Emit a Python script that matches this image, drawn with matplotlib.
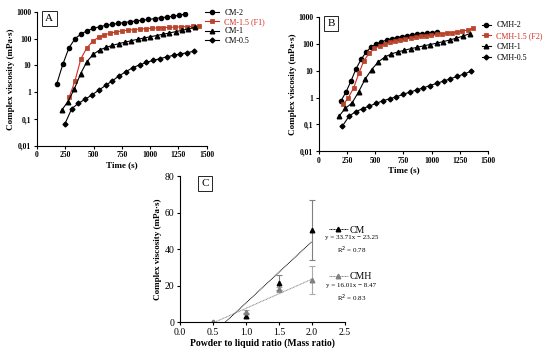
import numpy as np
import matplotlib.pyplot as plt
from matplotlib.ticker import FuncFormatter, FixedLocator
from matplotlib.lines import Line2D

plt.rcParams['font.family'] = ['Liberation Serif', 'DejaVu Serif']

# panel A (CM)
t_cm2 = [175 + 54 * k for k in range(22)]
v_cm2 = [2, 11, 45, 100, 150, 200, 240, 280, 310, 340, 370, 400, 430, 460,
         490, 520, 560, 600, 640, 690, 740, 830]
t_cm15 = [285 + 52 * k for k in range(23)]
v_cm15 = [0.65, 2.7, 18, 45, 80, 113, 140, 160, 180, 195, 207, 218, 228,
          237, 245, 252, 258, 264, 270, 276, 282, 288, 295]
t_cm1 = [218 + 56 * k for k in range(22)]
v_cm1 = [0.21, 0.45, 1.3, 4.9, 14, 26, 38, 47, 56, 65, 74, 84, 95, 106,
         118, 131, 146, 163, 183, 205, 232, 265]
t_cm05 = [247 + 60 * k for k in range(20)]
v_cm05 = [0.065, 0.24, 0.39, 0.55, 0.8, 1.2, 1.8, 2.7, 4.1, 5.9, 8.3, 10.5,
          13, 15.5, 18, 21, 24, 27, 30, 34]

# panel B (CMH)
t_cmh2 = [195 + 45 * k for k in range(20)]
v_cmh2 = [0.75, 1.6, 4.2, 12, 27, 50, 78, 100, 120, 138, 155, 170, 185,
          198, 212, 225, 238, 250, 262, 280]
t_cmh15 = [216 + 46 * k for k in range(26)]
v_cmh15 = [0.55, 1.0, 2.3, 8, 24, 45, 68, 85, 100, 115, 130, 143, 156, 168,
           180, 192, 204, 216, 228, 240, 253, 266, 280, 300, 330, 380]
t_cmh1 = [177 + 58 * k for k in range(21)]
v_cmh1 = [0.2, 0.4, 0.62, 1.6, 4.8, 11, 21, 32, 42, 50, 58, 66, 75, 85, 95,
          107, 122, 140, 165, 195, 240]
t_cmh05 = [207 + 60 * k for k in range(20)]
v_cmh05 = [0.085, 0.2, 0.30, 0.38, 0.48, 0.60, 0.76, 0.89, 1.07, 1.3, 1.6,
           1.9, 2.3, 2.8, 3.4, 4.1, 5.0, 6.1, 7.5, 9.4]

# panel C
ratio = [0.5, 1.0, 1.5, 2.0]
cm_mean = [0, 3.5, 21.7, 50.4]
cm_err = [0, 1.5, 4, 16.5]
cmh_mean = [0, 5.5, 18, 23]
cmh_err = [0, 1, 1.5, 7.7]

red = '#d42a1e'
brown = '#a0522d'
gray = '#808080'


def fmt_log(v, pos):
    return ('%g' % v).replace('.', ',')


def time_panel(ax, series, labels, letter, leg_x, leg_y, handle_len, spacing):
    markers = ['o', 's', '^', 'D']
    sizes = [3.0, 3.0, 3.3, 2.5]
    for i, (t, v) in enumerate(series):
        if markers[i] == 's':
            ax.plot(t, v, color=red, lw=0.8, marker='s', ms=sizes[i],
                    mfc=brown, mec=red, mew=0.5, label=labels[i])
        else:
            ax.plot(t, v, color='black', lw=0.8, marker=markers[i],
                    ms=sizes[i], label=labels[i])
    ax.set_yscale('log')
    ax.set_ylim(0.01, 1000)
    ax.set_xlim(0, 1500)
    ax.set_xticks([0, 250, 500, 750, 1000, 1250, 1500])
    ax.yaxis.set_major_locator(FixedLocator([0.01, 0.1, 1, 10, 100, 1000]))
    ax.yaxis.set_major_formatter(FuncFormatter(fmt_log))
    ax.yaxis.set_minor_locator(FixedLocator([]))
    for s in ['top', 'right']:
        ax.spines[s].set_visible(False)
    ax.tick_params(labelsize=5.5, length=2.5, width=0.8, pad=1.5)
    for lab in ax.get_xticklabels() + ax.get_yticklabels():
        lab.set_fontweight('bold')
    ax.set_xlabel('Time (s)', fontsize=6.5, fontweight='bold', labelpad=1)
    ax.set_ylabel('Complex viscosity (mPa·s)', fontsize=6.5,
                  fontweight='bold', labelpad=1)
    ax.text(0.05, 0.985, letter, transform=ax.transAxes, fontsize=8,
            va='top', ha='left',
            bbox=dict(boxstyle='square,pad=0.3', fc='white', ec='black', lw=0.6))
    leg = ax.legend(loc='upper left', bbox_to_anchor=(leg_x, leg_y),
                    frameon=False, fontsize=5.8, handlelength=handle_len,
                    labelspacing=spacing, borderaxespad=0, borderpad=0,
                    handletextpad=0.7)
    leg.get_texts()[1].set_color(red)


fig = plt.figure(figsize=(5.5, 3.49), dpi=100)

axA = fig.add_axes([0.067, 0.582, 0.309, 0.384])
time_panel(axA, [(t_cm2, v_cm2), (t_cm15, v_cm15), (t_cm1, v_cm1),
                 (t_cm05, v_cm05)],
           ['CM-2', 'CM-1.5 (F1)', 'CM-1', 'CM-0.5'], 'A',
           0.99, 1.022, 1.7, 0.15)

axB = fig.add_axes([0.58, 0.567, 0.307, 0.384])
time_panel(axB, [(t_cmh2, v_cmh2), (t_cmh15, v_cmh15), (t_cmh1, v_cmh1),
                 (t_cmh05, v_cmh05)],
           ['CMH-2', 'CMH-1.5 (F2)', 'CMH-1', 'CMH-0.5'], 'B',
           0.965, 0.968, 1.1, 0.35)

axC = fig.add_axes([0.327, 0.077, 0.30, 0.418])
axC.errorbar(ratio, cm_mean, yerr=cm_err, fmt='^', color='black', ms=3.3,
             ecolor=gray, elinewidth=0.8, capsize=2.5, capthick=0.8)
axC.errorbar(ratio, cmh_mean, yerr=cmh_err, fmt='^', color=gray, ms=3.3,
             ecolor='#aaaaaa', elinewidth=0.8, capsize=2.5, capthick=0.8)
xa = np.array([23.25 / 33.71, 2.0])
axC.plot(xa, 33.71 * xa - 23.25, color='black', lw=0.7, ls=(0, (1, 0.6)))
xb = np.array([8.47 / 16.01, 2.0])
axC.plot(xb, 16.01 * xb - 8.47, color=gray, lw=0.7, ls=(0, (1, 0.6)))
axC.set_xlim(0, 2.5)
axC.set_ylim(0, 80)
axC.set_xticks([0.0, 0.5, 1.0, 1.5, 2.0, 2.5])
axC.set_xticklabels(['0.0', '0.5', '1.0', '1.5', '2.0', '2.5'])
axC.set_yticks([0, 20, 40, 60, 80])
for s in ['top', 'right']:
    axC.spines[s].set_visible(False)
axC.tick_params(labelsize=7, length=2.5, width=0.8, pad=1.5)
axC.set_xlabel('Powder to liquid ratio (Mass ratio)', fontsize=7,
               fontweight='bold', labelpad=1)
axC.set_ylabel('Complex viscosity (mPa·s)', fontsize=6.5, fontweight='bold',
               labelpad=2)
axC.text(0.13, 0.98, 'C', transform=axC.transAxes, fontsize=8, va='top',
         ha='left',
         bbox=dict(boxstyle='square,pad=0.3', fc='white', ec='black', lw=0.6))

h_cm = Line2D([], [], color='black', lw=0.7, ls=(0, (1, 0.6)), marker='^',
              ms=3.3)
h_cmh = Line2D([], [], color=gray, lw=0.7, ls=(0, (1, 0.6)), marker='^',
               ms=3.3)
legC1 = axC.legend([h_cm], ['CM'], loc='center left',
                   bbox_to_anchor=(0.905, 0.63), frameon=False, fontsize=7,
                   handlelength=1.9, handletextpad=0.25, borderaxespad=0,
                   borderpad=0)
axC.add_artist(legC1)
axC.legend([h_cmh], ['CMH'], loc='center left', bbox_to_anchor=(0.905, 0.31),
           frameon=False, fontsize=7, handlelength=1.9, handletextpad=0.25,
           borderaxespad=0, borderpad=0)
axC.text(1.04, 0.525, 'y = 33.71x − 23.25\nR$^2$ = 0.78',
         transform=axC.transAxes, fontsize=5, ha='center', va='center',
         linespacing=1.5)
axC.text(1.04, 0.195, 'y = 16.01x − 8.47\nR$^2$ = 0.83',
         transform=axC.transAxes, fontsize=5, ha='center', va='center',
         linespacing=1.5)

fig.savefig('out.png', dpi=100)
